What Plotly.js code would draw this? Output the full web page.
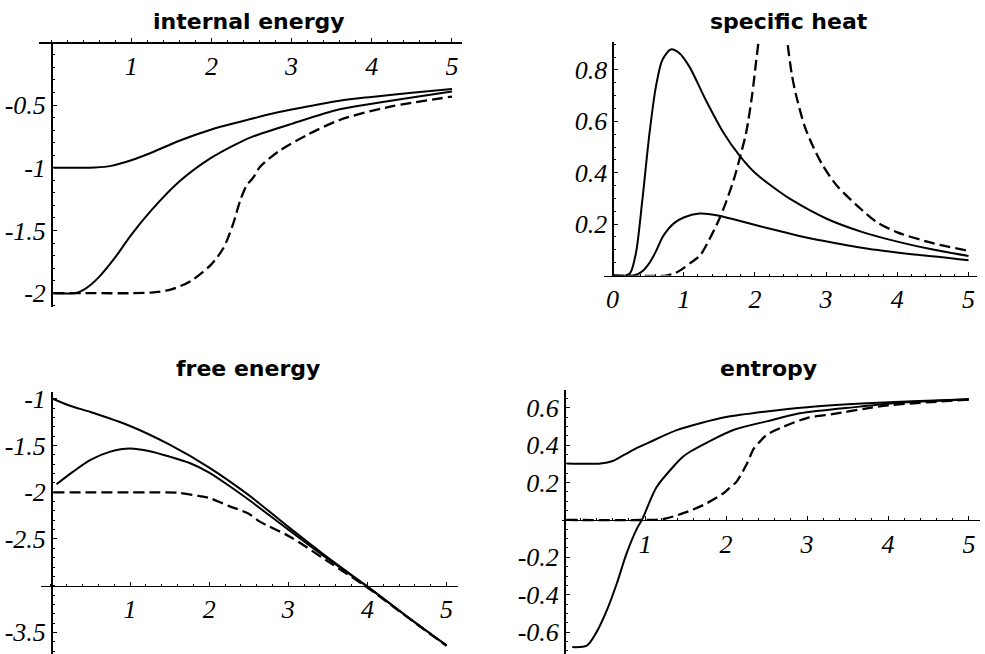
<!DOCTYPE html>
<html>
<head>
<meta charset="utf-8">
<script src="https://cdn.plot.ly/plotly-3.0.1.min.js"></script>
<style>html,body{margin:0;padding:0;background:#fff;}#chart{width:985px;height:654px;}</style>
</head>
<body>
<div id="chart"></div>
<script>
// ---------- titles ----------
const panelTitles = ['internal energy', 'specific heat', 'free energy', 'entropy'];

// ---------- tick values / labels ----------
const xTicks = [1, 2, 3, 4, 5];
const xTickLabels = ['1', '2', '3', '4', '5'];
const xTicksHeat = [0, 1, 2, 3, 4, 5];
const xTickLabelsHeat = ['0', '1', '2', '3', '4', '5'];
const yTicksInternal = [-0.5, -1, -1.5, -2];
const yTickLabelsInternal = ['-0.5', '-1', '-1.5', '-2'];
const yTicksHeat = [0.2, 0.4, 0.6, 0.8];
const yTickLabelsHeat = ['0.2', '0.4', '0.6', '0.8'];
const yTicksFree = [-1, -1.5, -2, -2.5, -3.5];
const yTickLabelsFree = ['-1', '-1.5', '-2', '-2.5', '-3.5'];
const yTicksEntropy = [0.6, 0.4, 0.2, -0.2, -0.4, -0.6];
const yTickLabelsEntropy = ['0.6', '0.4', '0.2', '-0.2', '-0.4', '-0.6'];

// ---------- internal energy ----------
const uTopT = [0.03, 0.3, 0.55, 0.75, 1.0, 1.25, 1.6, 2.0, 2.36, 2.75, 3.0, 3.6, 4.0, 4.5, 5.0];
const uTopV = [-1, -1, -0.998, -0.985, -0.94, -0.88, -0.785, -0.695, -0.633, -0.57, -0.536, -0.465, -0.435, -0.402, -0.373];
const uMidT = [0.03, 0.3, 0.4, 0.5, 0.6, 0.8, 1.0, 1.25, 1.6, 2.0, 2.36, 2.52, 3.0, 3.6, 4.0, 4.5, 5.0];
const uMidV = [-2, -2, -1.975, -1.93, -1.87, -1.715, -1.535, -1.34, -1.11, -0.92, -0.795, -0.75, -0.65, -0.534, -0.49, -0.44, -0.393];
const uDashT = [0.03, 0.5, 1.0, 1.25, 1.5, 1.75, 2.0, 2.15, 2.27, 2.36, 2.44, 2.52, 2.61, 2.86, 3.19, 3.6, 4.23, 5.0];
const uDashV = [-2, -2, -2, -1.995, -1.97, -1.9, -1.77, -1.64, -1.45, -1.26, -1.14, -1.08, -0.99, -0.86, -0.74, -0.619, -0.513, -0.433];

// ---------- specific heat ----------
const cBigT = [0, 0.19, 0.25, 0.33, 0.42, 0.52, 0.61, 0.7, 0.82, 0.94, 1.08, 1.31, 1.55, 1.79, 2.02, 2.35, 2.5, 3.0, 3.5, 4.0, 4.5, 5.0];
const cBigV = [0, 0, 0.01, 0.088, 0.295, 0.554, 0.735, 0.839, 0.88, 0.865, 0.813, 0.683, 0.56, 0.465, 0.395, 0.325, 0.297, 0.222, 0.17, 0.132, 0.101, 0.076];
const cSmallT = [0, 0.3, 0.42, 0.52, 0.61, 0.7, 0.78, 0.87, 1.0, 1.22, 1.46, 1.78, 2.3, 2.72, 3.1, 3.7, 4.2, 4.6, 5.0];
const cSmallV = [0, 0, 0.017, 0.049, 0.094, 0.148, 0.18, 0.205, 0.226, 0.241, 0.235, 0.213, 0.176, 0.148, 0.128, 0.1, 0.083, 0.072, 0.059];
const cDashT = [0, 0.75, 0.85, 0.95, 1.1, 1.23, 1.36, 1.5, 1.6, 1.7, 1.8, 1.88, 1.96, 2.02, 2.06, 2.1, 2.27, 2.42, 2.46, 2.52, 2.58, 2.7, 2.82, 2.95, 3.15, 3.5, 3.7, 4.0, 4.5, 5.0];
const cDashV = [0, 0, 0.006, 0.02, 0.05, 0.078, 0.14, 0.22, 0.29, 0.37, 0.47, 0.56, 0.7, 0.84, 0.93, 1.02, null, 1.02, 0.9, 0.78, 0.7, 0.58, 0.5, 0.43, 0.35, 0.256, 0.21, 0.168, 0.126, 0.096];

// ---------- free energy ----------
const fTopT = [0.03, 0.25, 0.5, 1.0, 1.5, 2.0, 2.5, 3.0, 3.5, 4.0, 4.5, 5.0];
const fTopV = [-1, -1.075, -1.14, -1.29, -1.49, -1.735, -2.03, -2.37, -2.7, -3.01, -3.33, -3.64];
const fMidT = [0.07, 0.28, 0.5, 0.75, 1.0, 1.25, 1.5, 1.76, 2.0, 2.26, 2.5, 3.0, 3.5, 4.0, 4.5, 5.0];
const fMidV = [-1.914, -1.779, -1.653, -1.564, -1.53, -1.56, -1.618, -1.689, -1.789, -1.935, -2.08, -2.4, -2.715, -3.01, -3.33, -3.64];
const fDashT = [0.03, 0.5, 1.0, 1.25, 1.6, 1.88, 2.0, 2.26, 2.5, 2.64, 3.02, 3.5, 4.0, 4.5, 5.0];
const fDashV = [-2, -2, -2, -2, -2.005, -2.04, -2.06, -2.15, -2.23, -2.314, -2.475, -2.74, -3.02, -3.335, -3.645];

// ---------- entropy ----------
const sTopT = [0.03, 0.45, 0.6, 0.75, 0.9, 1.05, 1.39, 1.68, 2.0, 2.5, 3.0, 3.74, 4.3, 5.0];
const sTopV = [0.302, 0.302, 0.315, 0.35, 0.385, 0.415, 0.48, 0.517, 0.55, 0.58, 0.603, 0.624, 0.635, 0.645];
const sMidT = [0.1, 0.28, 0.4, 0.53, 0.65, 0.77, 0.9, 0.96, 1.14, 1.35, 1.47, 1.56, 2.09, 2.5, 2.91, 3.65, 4.0, 5.0];
const sMidV = [-0.68, -0.672, -0.6, -0.48, -0.34, -0.18, -0.045, 0, 0.175, 0.286, 0.339, 0.366, 0.481, 0.527, 0.57, 0.606, 0.622, 0.645];
const sDashT = [0.03, 1.0, 1.23, 1.47, 1.72, 1.97, 2.04, 2.13, 2.26, 2.34, 2.42, 2.5, 2.71, 3.0, 3.33, 3.74, 4.0, 5.0];
const sDashV = [0, 0, 0.005, 0.036, 0.08, 0.143, 0.17, 0.205, 0.303, 0.38, 0.42, 0.455, 0.499, 0.545, 0.567, 0.597, 0.613, 0.643];

// ---------- styling ----------
const solid = {color: '#000', width: 2, shape: 'spline', smoothing: 0.8};
const dashed = {color: '#000', width: 2.3, dash: '11px,5px', shape: 'spline', smoothing: 0.8};

function tr(x, y, line, xa, ya) {
  return {x: x, y: y, mode: 'lines', line: line, xaxis: xa, yaxis: ya, hoverinfo: 'skip', connectgaps: false};
}

const data = [
  tr(uTopT, uTopV, solid, 'x', 'y'),
  tr(uMidT, uMidV, solid, 'x', 'y'),
  tr(uDashT, uDashV, dashed, 'x', 'y'),
  tr(cBigT, cBigV, solid, 'x2', 'y2'),
  tr(cSmallT, cSmallV, solid, 'x2', 'y2'),
  tr(cDashT, cDashV, dashed, 'x2', 'y2'),
  tr(fTopT, fTopV, solid, 'x3', 'y3'),
  tr(fMidT, fMidV, solid, 'x3', 'y3'),
  tr(fDashT, fDashV, dashed, 'x3', 'y3'),
  tr(sTopT, sTopV, solid, 'x4', 'y4'),
  tr(sMidT, sMidV, solid, 'x4', 'y4'),
  tr(sDashT, sDashV, dashed, 'x4', 'y4')
];

const tickFont = {family: 'Liberation Serif', size: 26, style: 'italic', color: '#000'};

function axis(extra, minorStep) {
  return Object.assign({
    showline: true, linecolor: '#000', linewidth: 1.5,
    showgrid: false, zeroline: false, fixedrange: true,
    ticks: 'inside', ticklen: 4, tickwidth: 1, tickcolor: '#000',
    tickmode: 'array', tickfont: tickFont, automargin: false,
    minor: {dtick: minorStep, tick0: 0, ticks: 'inside', ticklen: 2, tickwidth: 1, tickcolor: '#000', showgrid: false}
  }, extra);
}

const titleFont = {family: 'DejaVu Sans', size: 22, weight: 'bold', color: '#000'};
const titlePos = [[0.2528, 0.967], [0.801, 0.967], [0.2513, 0.437], [0.7797, 0.437]];

const layout = {
  width: 985, height: 654,
  margin: {l: 0, r: 0, t: 0, b: 0},
  paper_bgcolor: '#fff', plot_bgcolor: '#fff',
  showlegend: false,
  xaxis: axis({domain: [0.0396, 0.4690], range: [-0.15, 5.125], anchor: 'free', position: 0.9353, side: 'bottom',
               tickvals: xTicks, ticktext: xTickLabels}, 0.2),
  yaxis: axis({domain: [0.5306, 0.9353], range: [-2.11, 0], anchor: 'free', position: 0.0518, side: 'left',
               tickvals: yTicksInternal, ticktext: yTickLabelsInternal}, 0.1),
  xaxis2: axis({domain: [0.6132, 0.9916], range: [-0.119, 5.115], anchor: 'y2', side: 'bottom',
                tickvals: xTicksHeat, ticktext: xTickLabelsHeat}, 0.2),
  yaxis2: axis({domain: [0.5787, 0.9358], range: [0, 0.909], anchor: 'free', position: 0.6218, side: 'left',
                tickvals: yTicksHeat, ticktext: yTickLabelsHeat}, 0.05),
  xaxis3: axis({domain: [0.0413, 0.4653], range: [-0.13, 5.149], anchor: 'free', position: 0.1044, side: 'bottom',
                tickvals: xTicks, ticktext: xTickLabels}, 0.2),
  yaxis3: axis({domain: [0, 0.4011], range: [-3.732, -0.922], anchor: 'free', position: 0.0518, side: 'left',
                tickvals: yTicksFree, ticktext: yTickLabelsFree}, 0.1),
  xaxis4: axis({domain: [0.5703, 0.9949], range: [-0.03, 5.136], anchor: 'free', position: 0.2049, side: 'bottom',
                tickvals: xTicks, ticktext: xTickLabels}, 0.2),
  yaxis4: axis({domain: [0, 0.4037], range: [-0.717, 0.695], anchor: 'free', position: 0.5726, side: 'left',
                tickvals: yTicksEntropy, ticktext: yTickLabelsEntropy}, 0.05),
  annotations: panelTitles.map(function (t, i) {
    return {text: t, xref: 'paper', yref: 'paper', x: titlePos[i][0], y: titlePos[i][1],
            xanchor: 'center', yanchor: 'middle', showarrow: false, font: titleFont};
  })
};

Plotly.newPlot('chart', data, layout, {staticPlot: true, displayModeBar: false});
</script>
</body>
</html>
